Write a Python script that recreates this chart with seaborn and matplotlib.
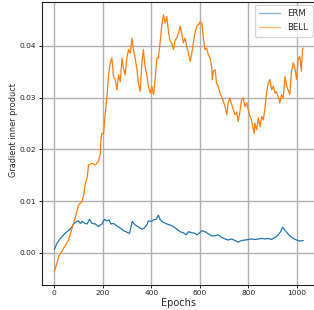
import matplotlib
matplotlib.use("Agg")
import matplotlib.pyplot as plt
import seaborn as sns
import pandas as pd

bell_epochs = [0, 18, 38, 59, 73, 86, 100, 114, 121, 128, 135, 141, 155, 169, 182, 189, 192, 196, 203, 210,
               217, 223, 230, 237, 244, 251, 258, 265, 272, 279, 285, 292, 299, 306, 313, 320, 326, 333, 340, 347,
               354, 361, 367, 374, 381, 388, 395, 402, 409, 416, 423, 429, 436, 443, 450, 457, 464, 470, 477, 484,
               491, 498, 505, 512, 519, 525, 532, 539, 546, 553, 560, 567, 573, 580, 587, 594, 601, 608, 614, 621,
               628, 635, 642, 649, 651, 656, 663, 669, 676, 683, 690, 697, 704, 711, 717, 724, 731, 738, 745, 752,
               758, 765, 772, 779, 786, 793, 800, 807, 813, 820, 824, 827, 834, 841, 848, 855, 862, 868, 875, 882,
               889, 896, 903, 910, 916, 923, 930, 937, 944, 951, 958, 964, 971, 978, 985, 992, 999, 1005, 1012, 1019,
               1023, 1026]
bell_values = [-0.0036, -0.0007, 0.0009, 0.0025, 0.0048, 0.0068, 0.0093, 0.0099, 0.0112, 0.0135, 0.0145, 0.0170,
               0.0173, 0.0170, 0.0177, 0.0190, 0.0219, 0.0231, 0.0231, 0.0270,
               0.0302, 0.0341, 0.0367, 0.0377, 0.0341, 0.0335, 0.0315, 0.0344, 0.0331, 0.0377, 0.0357, 0.0344,
               0.0377, 0.0393, 0.0386, 0.0415, 0.0393, 0.0377, 0.0357, 0.0328,
               0.0312, 0.0367, 0.0393, 0.0360, 0.0344, 0.0322, 0.0309, 0.0322, 0.0306, 0.0338, 0.0377, 0.0377,
               0.0406, 0.0440, 0.0460, 0.0444, 0.0457, 0.0430, 0.0410, 0.0406,
               0.0393, 0.0412, 0.0415, 0.0425, 0.0438, 0.0425, 0.0406, 0.0415, 0.0399, 0.0386, 0.0370, 0.0386,
               0.0406, 0.0425, 0.0438, 0.0441, 0.0447, 0.0444, 0.0418, 0.0393,
               0.0396, 0.0383, 0.0377, 0.0360, 0.0335, 0.0351, 0.0354, 0.0328, 0.0322, 0.0309, 0.0302, 0.0293,
               0.0283, 0.0267, 0.0290, 0.0300, 0.0287, 0.0277, 0.0267, 0.0272,
               0.0254, 0.0272, 0.0296, 0.0299, 0.0283, 0.0290, 0.0277, 0.0264, 0.0257, 0.0241, 0.0231, 0.0251,
               0.0238, 0.0261, 0.0244, 0.0264, 0.0257, 0.0277, 0.0309, 0.0328,
               0.0335, 0.0315, 0.0322, 0.0309, 0.0312, 0.0302, 0.0290, 0.0306, 0.0299, 0.0341, 0.0322, 0.0315,
               0.0306, 0.0351, 0.0367, 0.0357, 0.0335, 0.0373, 0.0380, 0.0351,
               0.0393, 0.0396]

erm_epochs = [0, 11, 25, 38, 52, 66, 73, 79, 93, 100, 107, 114, 128, 135, 145, 155, 169, 182, 196, 207,
              217, 226, 233, 244, 258, 272, 285, 296, 303, 310, 315, 321, 333, 347, 361, 370, 381, 388, 402, 409,
              420, 429, 436, 443, 450, 464, 477, 491, 505, 519, 532, 543, 553, 567, 580, 587, 594, 608, 621, 635,
              649, 663, 676, 690, 704, 717, 731, 745, 758, 772, 786, 800, 813, 827, 841, 855, 868, 882, 896, 910,
              923, 933, 941, 947, 958, 971, 985, 999, 1012, 1026]
erm_values = [0.0007, 0.0019, 0.0028, 0.0035, 0.0041, 0.0046, 0.0051, 0.0056, 0.0061, 0.0062, 0.0057, 0.0061,
              0.0057, 0.0056, 0.0065, 0.0057, 0.0056, 0.0051, 0.0056, 0.0065,
              0.0062, 0.0064, 0.0056, 0.0057, 0.0052, 0.0048, 0.0043, 0.0041, 0.0039, 0.0038, 0.0048, 0.0061,
              0.0054, 0.0050, 0.0046, 0.0048, 0.0054, 0.0062, 0.0061, 0.0064,
              0.0065, 0.0073, 0.0065, 0.0061, 0.0059, 0.0056, 0.0054, 0.0051, 0.0046, 0.0041, 0.0039, 0.0035,
              0.0041, 0.0039, 0.0038, 0.0035, 0.0037, 0.0043, 0.0041, 0.0037,
              0.0033, 0.0033, 0.0035, 0.0030, 0.0027, 0.0025, 0.0027, 0.0024, 0.0021, 0.0024, 0.0025, 0.0026,
              0.0027, 0.0026, 0.0027, 0.0028, 0.0027, 0.0028, 0.0026, 0.0030,
              0.0035, 0.0041, 0.0050, 0.0046, 0.0040, 0.0033, 0.0028, 0.0025, 0.0023, 0.0024]

methods = ["ERM", "BELL"]
xticks = [0, 200, 400, 600, 800, 1000]
yticks = [0.00, 0.01, 0.02, 0.03, 0.04]
ytick_labels = ["0.00", "0.01", "0.02", "0.03", "0.04"]

df = pd.concat([
    pd.DataFrame({"Epochs": erm_epochs, "value": erm_values, "method": methods[0]}),
    pd.DataFrame({"Epochs": bell_epochs, "value": bell_values, "method": methods[1]}),
], ignore_index=True)

sns.set_style("ticks")
plt.rcParams['font.family'] = ['DejaVu Sans']

fig = plt.figure(figsize=(3.14, 3.10), dpi=100)
ax = fig.add_axes([42 / 314, (310 - 284.5) / 310, (315.5 - 42) / 314, (282.5) / 310])

sns.lineplot(data=df, x="Epochs", y="value", hue="method", hue_order=methods,
             palette=["#1f77b4", "#ff7f0e"], linewidth=0.9, ax=ax, estimator=None, sort=True)

ax.set_xlim(-51, 1077)
ax.set_ylim(-0.0061, 0.0485)
ax.set_xticks(xticks)
ax.set_yticks(yticks)
ax.set_yticklabels(ytick_labels)
ax.tick_params(labelsize=5.4, length=2.3, width=0.7, pad=1.8, colors="#222222")
ax.grid(True, color="#b0b0b0", linewidth=1.0)
ax.set_axisbelow(True)
ax.set_xlabel("Epochs", fontsize=7, labelpad=1)
ax.set_ylabel("Gradient inner product", fontsize=5.9)
ax.yaxis.set_label_coords(-0.088, 0.547)
for s in ["left", "bottom", "top", "right"]:
    ax.spines[s].set_color("#222222")
    ax.spines[s].set_linewidth(0.8)

leg = ax.legend(loc="upper right", fontsize=6.1, frameon=True, framealpha=0.8,
                handlelength=2.5, handletextpad=0.9, borderpad=0.5, labelspacing=0.6,
                borderaxespad=0.35)
leg.set_title(None)
for line in leg.get_lines():
    line.set_alpha(0.55)
    line.set_linewidth(1.0)

fig.savefig("out.png", dpi=100)
